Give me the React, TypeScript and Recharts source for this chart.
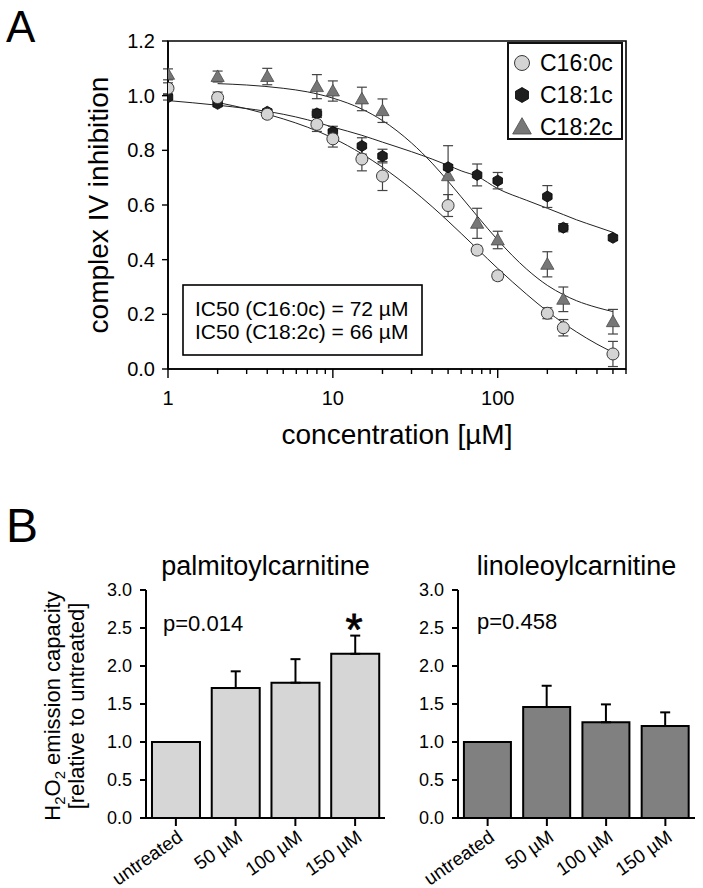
import React from 'react';
import {
  ComposedChart, Line, Scatter, XAxis, YAxis, ErrorBar, ReferenceArea, Legend,
  BarChart, Bar,
} from 'recharts';

const FONT = '"Liberation Sans", Arial, Helvetica, sans-serif';

// ---- panel A: complex IV inhibition vs concentration (µM)
const CONC = [1, 2, 4, 8, 10, 15, 20, 50, 75, 100, 200, 250, 500];
const C16_MEAN = [1.027, 0.993, 0.932, 0.895, 0.842, 0.768, 0.706, 0.598, 0.435, 0.341, 0.204, 0.151, 0.055];
const C16_SD = [0.02, 0.02, 0.015, 0.026, 0.03, 0.043, 0.053, 0.04, 0.015, 0.015, 0.02, 0.03, 0.046];
const C181_MEAN = [0.994, 0.97, 0.941, 0.935, 0.868, 0.816, 0.779, 0.738, 0.71, 0.689, 0.631, 0.517, 0.48];
const C181_SD = [0.01, 0.01, 0.01, 0.015, 0.02, 0.03, 0.025, 0.01, 0.04, 0.03, 0.04, 0.015, 0.01];
const C182_MEAN = [1.078, 1.07, 1.07, 1.033, 1.017, 0.988, 0.945, 0.707, 0.533, 0.472, 0.383, 0.255, 0.173];
const C182_SD = [0.02, 0.02, 0.03, 0.044, 0.037, 0.043, 0.043, 0.11, 0.055, 0.032, 0.046, 0.045, 0.045];

// fitted curves
const FIT_X = [2, 3, 5, 7, 10, 15, 20, 30, 40, 50, 60, 75, 100, 150, 200, 250, 300, 400, 500];
const FIT_X_181 = [1, 2, 3, 5, 7, 10, 15, 20, 30, 40, 50, 60, 75, 100, 150, 200, 250, 300, 400, 500];
const C16_FIT = [0.975, 0.952, 0.915, 0.885, 0.845, 0.787, 0.738, 0.658, 0.594, 0.541, 0.496, 0.44, 0.368, 0.273, 0.211, 0.168, 0.136, 0.091, 0.061];
const C181_FIT = [0.982, 0.965, 0.953, 0.932, 0.912, 0.885, 0.855, 0.83, 0.795, 0.768, 0.745, 0.725, 0.705, 0.66, 0.617, 0.588, 0.565, 0.546, 0.52, 0.5];
const C182_FIT = [1.044, 1.039, 1.027, 1.014, 0.991, 0.951, 0.909, 0.827, 0.753, 0.687, 0.63, 0.56, 0.472, 0.365, 0.306, 0.272, 0.25, 0.225, 0.21];

const LOG_TICKS = [1, 2, 3, 4, 5, 6, 7, 8, 9, 10, 20, 30, 40, 50, 60, 70, 80, 90, 100, 200, 300, 400, 500, 600];
const MAJOR_TICKS = [1, 10, 100];
const Y_TICKS_A = [0, 0.2, 0.4, 0.6, 0.8, 1.0, 1.2];

// ---- panel B: H2O2 emission capacity
const GROUPS = ['untreated', '50 µM', '100 µM', '150 µM'];
const PALM_MEAN = [1.0, 1.71, 1.78, 2.16];
const PALM_SEM = [0, 0.22, 0.31, 0.24];
const LINO_MEAN = [1.0, 1.46, 1.26, 1.21];
const LINO_SEM = [0, 0.28, 0.235, 0.18];
const Y_TICKS_B = [0, 0.5, 1.0, 1.5, 2.0, 2.5, 3.0];

const points = (means: number[], sds: number[]) =>
  CONC.map((x, i) => ({ x, y: means[i], e: sds[i] }));
const curve = (xs: number[], ys: number[]) => xs.map((x, i) => ({ x, y: ys[i] }));
const bars = (means: number[], sems: number[]) =>
  GROUPS.map((name, i) => ({ name, v: means[i], e: [0, sems[i]] }));

type Kind = 'circle' | 'hex' | 'tri';

function Marker({ kind, cx, cy, r }: { kind: Kind; cx: number; cy: number; r: number }) {
  if (kind === 'circle') {
    return <circle cx={cx} cy={cy} r={r} fill="#d4d4d4" stroke="#3a3a3a" strokeWidth={1} />;
  }
  if (kind === 'hex') {
    const pts = [-90, -30, 30, 90, 150, 210]
      .map(a => `${cx + r * Math.cos((a * Math.PI) / 180)},${cy + r * Math.sin((a * Math.PI) / 180)}`)
      .join(' ');
    return <polygon points={pts} fill="#1e1e1e" stroke="#000" strokeWidth={0.8} />;
  }
  const h = r * 1.1;
  return (
    <polygon
      points={`${cx},${cy - h} ${cx + r * 1.1},${cy + h * 0.75} ${cx - r * 1.1},${cy + h * 0.75}`}
      fill="#777" stroke="#4a4a4a" strokeWidth={0.8}
    />
  );
}

const SERIES: { name: string; kind: Kind }[] = [
  { name: 'C16:0c', kind: 'circle' },
  { name: 'C18:1c', kind: 'hex' },
  { name: 'C18:2c', kind: 'tri' },
];

const LegendA = () => (
  <div style={{ width: 116, height: 98, border: '2px solid #111', boxSizing: 'border-box', background: '#fff', paddingTop: 3, fontFamily: FONT }}>
    {SERIES.map(s => (
      <div key={s.name} style={{ display: 'flex', alignItems: 'center', height: 32 }}>
        <svg width={26} height={32}>
          <Marker kind={s.kind} cx={13} cy={16} r={s.kind === 'tri' ? 8.5 : 7.5} />
        </svg>
        <span style={{ fontSize: 23, marginLeft: 5, color: '#000', lineHeight: '32px' }}>{s.name}</span>
      </div>
    ))}
  </div>
);

const LogTick = (props: any) => {
  const { x, y, payload } = props;
  const major = MAJOR_TICKS.includes(payload.value);
  return (
    <g>
      <line x1={x} y1={y} x2={x} y2={y + (major ? 9 : 5)} stroke="#000" strokeWidth={1.4} />
      {major && (
        <text x={x} y={y + 36} textAnchor="middle" fontSize={20} fill="#000">{payload.value}</text>
      )}
    </g>
  );
};

const XLabelA = () => (
  <text x={397} y={444} textAnchor="middle" fontSize={28} fill="#000">concentration [µM]</text>
);

const YLabelA = () => (
  <text x={0} y={0} transform="translate(108,205) rotate(-90)" textAnchor="middle" fontSize={28} fill="#000">
    complex IV inhibition
  </text>
);

const SlantTick = (props: any) => {
  const { x, y, payload } = props;
  return (
    <g transform={`translate(${x + 8},${y + 14})`}>
      <text textAnchor="end" transform="rotate(-35)" fontSize={19} fill="#000">{payload.value}</text>
    </g>
  );
};

const YLabelB = () => (
  <g transform="translate(0,166)">
    <text x={0} y={0} transform="translate(60,0) rotate(-90)" textAnchor="middle" fontSize={22} fill="#000">
      <tspan>H</tspan>
      <tspan dy={5} fontSize={15}>2</tspan>
      <tspan dy={-5}>O</tspan>
      <tspan dy={5} fontSize={15}>2</tspan>
      <tspan dy={-5}> emission capacity</tspan>
    </text>
    <text x={0} y={0} transform="translate(84,0) rotate(-90)" textAnchor="middle" fontSize={22} fill="#000">
      [relative to untreated]
    </text>
  </g>
);

function BarPanel({ data, fill, width, left, right, withLabel }: {
  data: { name: string; v: number; e: number[] }[]; fill: string; width: number; left: number; right: number; withLabel?: boolean;
}) {
  return (
    <BarChart width={width} height={348} data={data} margin={{ top: 50, right, left, bottom: 0 }} barCategoryGap="10%">
      <XAxis
        dataKey="name" height={70} interval={0} tickSize={8} tickMargin={0}
        tick={<SlantTick />}
        axisLine={{ stroke: '#000', strokeWidth: 2 }} tickLine={{ stroke: '#000', strokeWidth: 2 }}
      />
      <XAxis xAxisId="top" orientation="top" dataKey="name" height={0} tick={false} tickLine={false}
        axisLine={{ stroke: '#000', strokeWidth: 2 }} />
      <YAxis
        type="number" domain={[0, 3]} ticks={Y_TICKS_B} width={60} tickSize={6} tickMargin={8}
        tickFormatter={(v: number) => v.toFixed(1)}
        tick={{ fill: '#000', fontSize: 18 }}
        axisLine={{ stroke: '#000', strokeWidth: 2 }} tickLine={{ stroke: '#000', strokeWidth: 2 }}
        label={withLabel ? <YLabelB /> : undefined}
      />
      <YAxis yAxisId="right" orientation="right" type="number" domain={[0, 3]} width={0} tick={false}
        tickLine={false} axisLine={{ stroke: '#000', strokeWidth: 2 }} />
      <Bar dataKey="v" fill={fill} stroke="#000" strokeWidth={2} isAnimationActive={false}>
        <ErrorBar dataKey="e" direction="y" width={5} stroke="#000" strokeWidth={2} />
      </Bar>
    </BarChart>
  );
}

export default function App() {
  return (
    <div style={{ position: 'absolute', left: 0, top: 0, width: 703, height: 888, background: '#fff', fontFamily: FONT }}>
      <div style={{ position: 'absolute', left: 0, top: 0 }}>
        <ComposedChart width={703} height={470} margin={{ top: 41, right: 77, left: 78, bottom: 0 }}>
          <XAxis
            dataKey="x" type="number" scale="log" domain={[1, 600]} allowDataOverflow
            ticks={LOG_TICKS} interval={0} height={101} tickSize={0} tickMargin={0}
            tickLine={false} tick={<LogTick />}
            axisLine={{ stroke: '#000', strokeWidth: 1.6 }}
            label={<XLabelA />}
          />
          <YAxis
            type="number" domain={[0, 1.2]} ticks={Y_TICKS_A} width={90} tickSize={6} tickMargin={7}
            tickFormatter={(v: number) => v.toFixed(1)}
            tick={{ fill: '#000', fontSize: 20 }}
            axisLine={{ stroke: '#000', strokeWidth: 1.6 }} tickLine={{ stroke: '#000', strokeWidth: 1.4 }}
            label={<YLabelA />}
          />
          <ReferenceArea x1={1} x2={600} y1={0} y2={1.2} fill="none" stroke="#000" strokeWidth={1.6} />
          <Line data={curve(FIT_X, C182_FIT)} dataKey="y" type="monotone" stroke="#222" strokeWidth={1} dot={false} isAnimationActive={false} />
          <Line data={curve(FIT_X_181, C181_FIT)} dataKey="y" type="monotone" stroke="#222" strokeWidth={1} dot={false} isAnimationActive={false} />
          <Line data={curve(FIT_X, C16_FIT)} dataKey="y" type="monotone" stroke="#222" strokeWidth={1} dot={false} isAnimationActive={false} />
          <Scatter data={points(C182_MEAN, C182_SD)} dataKey="y" isAnimationActive={false}
            shape={(p: any) => <Marker kind="tri" cx={p.cx} cy={p.cy} r={6} />}>
            <ErrorBar dataKey="e" direction="y" width={5} stroke="#444" strokeWidth={1.2} />
          </Scatter>
          <Scatter data={points(C181_MEAN, C181_SD)} dataKey="y" isAnimationActive={false}
            shape={(p: any) => <Marker kind="hex" cx={p.cx} cy={p.cy} r={5.5} />}>
            <ErrorBar dataKey="e" direction="y" width={5} stroke="#444" strokeWidth={1.2} />
          </Scatter>
          <Scatter data={points(C16_MEAN, C16_SD)} dataKey="y" isAnimationActive={false}
            shape={(p: any) => <Marker kind="circle" cx={p.cx} cy={p.cy} r={6} />}>
            <ErrorBar dataKey="e" direction="y" width={5} stroke="#444" strokeWidth={1.2} />
          </Scatter>
          <Legend
            content={() => <LegendA />} layout="vertical" verticalAlign="middle" align="center"
            wrapperStyle={{ left: 507, top: 42, width: 116, height: 98 }}
          />
        </ComposedChart>
      </div>

      <div style={{ position: 'absolute', left: 0, top: 540 }}>
        <BarPanel data={bars(PALM_MEAN, PALM_SEM)} fill="#d6d6d6" width={400} left={86} right={15} withLabel />
      </div>
      <div style={{ position: 'absolute', left: 380, top: 540 }}>
        <BarPanel data={bars(LINO_MEAN, LINO_SEM)} fill="#808080" width={323} left={18} right={8} />
      </div>

      <svg width={703} height={888} style={{ position: 'absolute', left: 0, top: 0, pointerEvents: 'none' }}>
        <text x={6} y={42} fontSize={44} fill="#000">A</text>
        <text x={6} y={542} fontSize={48} fill="#000">B</text>
        <rect x={183} y={285} width={239} height={70} fill="#fff" stroke="#000" strokeWidth={1.6} />
        <text x={195} y={316} fontSize={21} fill="#000">IC50 (C16:0c) = 72 µM</text>
        <text x={195} y={339} fontSize={21} fill="#000">IC50 (C18:2c) = 66 µM</text>
        <text x={265.5} y={575} textAnchor="middle" fontSize={27} fill="#000">palmitoylcarnitine</text>
        <text x={576.5} y={575} textAnchor="middle" fontSize={27} fill="#000">linoleoylcarnitine</text>
        <text x={163} y={631} fontSize={22} fill="#000">p=0.014</text>
        <text x={477} y={629} fontSize={22} fill="#000">p=0.458</text>
        <text x={354} y={645} textAnchor="middle" fontSize={44} fill="#000" stroke="#000" strokeWidth={0.8}>*</text>
      </svg>
    </div>
  );
}
